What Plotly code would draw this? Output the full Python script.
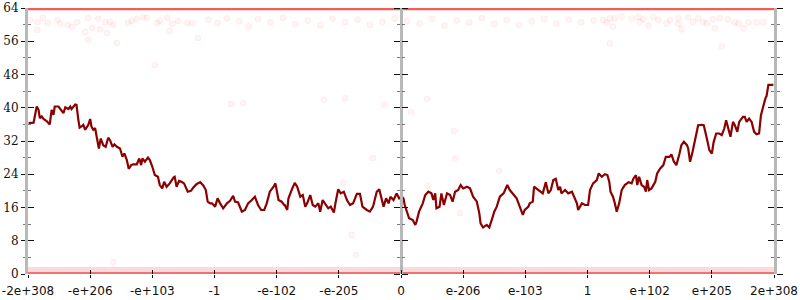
import plotly.graph_objects as go

# ---------------- data ----------------
tick_vals = [-6, -5, -4, -3, -2, -1, 0, 1, 2, 3, 4, 5, 6]
tick_text = ["-2e+308", "-e+206", "-e+103", "-1", "-e-102", "-e-205", "0",
             "e-206", "e-103", "1", "e+102", "e+205", "2e+308"]
y_major = [0, 8, 16, 24, 32, 40, 48, 56, 64]
y_minor = [4, 12, 20, 28, 36, 44, 52, 60]

left_x = [-5.99, -5.91, -5.86, -5.83, -5.81, -5.78, -5.75, -5.70, -5.65, -5.62,
          -5.59, -5.57, -5.51, -5.49, -5.43, -5.40, -5.35, -5.32, -5.30, -5.24,
          -5.22, -5.19, -5.17, -5.14, -5.11, -5.08, -5.06, -5.03, -5.00, -4.98,
          -4.95, -4.92, -4.89, -4.86, -4.83, -4.79, -4.75, -4.71, -4.68, -4.64,
          -4.61, -4.57, -4.52, -4.48, -4.45, -4.41, -4.38, -4.34, -4.31, -4.25,
          -4.21, -4.18, -4.16, -4.12, -4.07, -4.04, -4.00, -3.96, -3.91, -3.88,
          -3.84, -3.81, -3.77, -3.72, -3.66, -3.64, -3.61, -3.57, -3.53, -3.49,
          -3.43, -3.38, -3.34, -3.29, -3.23, -3.18, -3.14, -3.11, -3.07, -3.04,
          -2.99, -2.95, -2.91, -2.86, -2.80, -2.75, -2.70, -2.67, -2.62, -2.56,
          -2.51, -2.46, -2.40, -2.35, -2.32, -2.30, -2.25, -2.20, -2.16, -2.11,
          -2.05, -2.02, -1.97, -1.92, -1.88]
left_y = [36.3, 36.4, 40.3, 39.5, 37.5, 37.9, 37.3, 36.8, 36.0, 39.5,
          38.3, 40.3, 40.3, 39.9, 38.7, 40.1, 39.7, 40.3, 39.7, 40.8,
          40.7, 37.1, 35.2, 35.5, 35.9, 34.7, 35.1, 35.9, 37.3, 35.5,
          34.7, 35.1, 32.6, 30.2, 32.6, 31.0, 30.6, 32.8, 32.2, 30.6,
          31.2, 30.6, 30.2, 28.2, 29.0, 27.4, 25.3, 26.2, 26.4, 26.4,
          27.8, 26.2, 27.8, 27.0, 28.0, 27.4, 25.8, 23.8, 23.4, 21.4,
          20.6, 22.2, 21.0, 21.8, 23.2, 23.4, 21.0, 22.4, 22.2, 21.8,
          19.8, 20.0, 20.8, 21.6, 22.1, 21.3, 20.2, 17.4, 17.0, 17.0,
          16.2, 18.2, 17.0, 15.8, 17.0, 17.6, 18.8, 17.4, 17.2, 15.0,
          15.4, 17.0, 17.8, 18.6, 17.4, 16.6, 15.4, 15.4, 17.0, 19.8,
          21.0, 21.8, 17.8, 17.4, 16.6]

mid_x = [-1.87, -1.83, -1.81, -1.76, -1.71, -1.67, -1.62, -1.58, -1.54, -1.51,
         -1.46, -1.42, -1.38, -1.33, -1.30, -1.26, -1.21, -1.17, -1.13, -1.08,
         -1.05, -1.01, -0.97, -0.92, -0.87, -0.82, -0.77, -0.71, -0.66, -0.62,
         -0.55, -0.50, -0.45, -0.39, -0.35, -0.31, -0.28, -0.24, -0.20, -0.17,
         -0.12, -0.07, -0.03, 0.01, 0.04, 0.06, 0.09, 0.13, 0.19, 0.23,
         0.25, 0.29, 0.35, 0.39, 0.44, 0.49, 0.52, 0.55, 0.57, 0.62,
         0.65, 0.69, 0.74, 0.79, 0.83, 0.87, 0.92, 0.96, 1.00, 1.06,
         1.11, 1.16, 1.22, 1.26, 1.28, 1.32, 1.38, 1.42, 1.46, 1.50,
         1.54, 1.59, 1.65, 1.71, 1.75, 1.81, 1.86, 1.91, 1.96, 1.99,
         2.05]
mid_y = [16.6, 15.4, 18.2, 20.2, 21.9, 21.0, 18.6, 19.0, 16.2, 17.0,
         19.0, 16.6, 16.2, 17.0, 15.0, 17.8, 16.6, 15.8, 16.2, 14.8,
         17.4, 20.4, 19.4, 19.8, 17.8, 16.6, 17.0, 19.3, 19.3, 16.2,
         15.4, 15.0, 16.2, 19.8, 20.4, 18.2, 16.2, 18.2, 17.0, 18.6,
         17.8, 19.4, 18.2, 18.6, 18.2, 16.6, 15.0, 13.4, 13.0, 11.8,
         12.6, 15.0, 17.0, 19.0, 19.8, 19.4, 17.8, 19.4, 15.8, 16.2,
         19.4, 16.6, 19.4, 19.0, 17.4, 19.8, 20.2, 21.4, 20.6, 21.0,
         20.6, 18.6, 17.4, 14.6, 12.2, 11.2, 11.8, 11.2, 13.0, 15.0,
         16.2, 18.6, 19.4, 21.4, 20.2, 19.0, 18.2, 16.2, 14.2, 15.4,
         16.2]

right_x = [2.07, 2.12, 2.14, 2.21, 2.28, 2.33, 2.37, 2.41, 2.45, 2.49,
           2.53, 2.56, 2.58, 2.64, 2.69, 2.75, 2.78, 2.83, 2.85, 2.91,
           2.96, 3.01, 3.04, 3.09, 3.15, 3.18, 3.23, 3.28, 3.32, 3.35,
           3.37, 3.41, 3.44, 3.47, 3.51, 3.55, 3.60, 3.66, 3.71, 3.74,
           3.78, 3.80, 3.83, 3.87, 3.91, 3.94, 3.96, 3.99, 4.03, 4.09,
           4.12, 4.17, 4.22, 4.26, 4.32, 4.35, 4.39, 4.43, 4.48, 4.51,
           4.55, 4.60, 4.62, 4.65, 4.69, 4.73, 4.78, 4.84, 4.87, 4.92,
           4.96, 5.00, 5.03, 5.07, 5.12, 5.16, 5.20, 5.23, 5.26, 5.30,
           5.34, 5.37, 5.41, 5.44, 5.50, 5.53, 5.56, 5.60, 5.64, 5.68,
           5.72, 5.76, 5.79, 5.82, 5.86, 5.88, 5.91, 5.99]
right_y = [17.0, 17.4, 21.0, 20.2, 19.4, 22.1, 19.4, 20.2, 22.6, 22.9,
           20.2, 21.0, 19.4, 20.2, 19.4, 19.8, 18.8, 17.0, 15.4, 17.0,
           16.6, 16.6, 20.2, 21.8, 22.6, 24.2, 23.4, 24.0, 23.8, 22.2,
           19.8, 18.6, 17.0, 15.0, 17.0, 20.2, 21.4, 22.1, 21.8, 23.0,
           23.8, 21.4, 23.4, 21.4, 21.0, 19.8, 22.6, 20.2, 20.6, 22.2,
           24.2, 25.4, 26.2, 28.2, 28.2, 28.8, 27.0, 26.2, 29.0, 31.0,
           31.8, 31.0, 30.2, 27.0, 29.4, 32.2, 35.8, 35.9, 35.8, 32.6,
           29.8, 29.0, 31.8, 33.8, 33.8, 33.4, 35.0, 37.0, 35.0, 33.0,
           36.6, 35.8, 34.2, 36.6, 37.8, 37.8, 36.6, 37.4, 36.6, 34.2,
           33.6, 33.8, 38.2, 40.2, 42.2, 42.8, 45.5, 45.5]

# scattered sample points (faint circles)
pts_x = [-5.97, -5.85, -5.85, -5.76, -5.68, -5.53, -5.48, -5.36, -5.29, -5.21,
         -5.08, -5.03, -5.03, -4.97, -4.87, -4.84, -4.76, -4.73, -4.68, -4.63,
         -4.57, -4.39, -4.33, -4.25, -4.15, -4.09, -3.96, -3.92, -3.88, -3.76,
         -3.72, -3.68, -3.59, -3.44, -3.36, -3.27,
         -3.1, -2.95, -2.8, -2.6, -2.45, -2.3, -2.1, -1.9, -1.7, -1.5,
         -1.3, -1.1, -0.9, -0.7, -0.5, -0.3, -0.1, 0.1, 0.3, 0.5, 0.7,
         0.9, 1.1, 1.3, 1.5, 1.7, 1.9, 2.1, 2.3, 2.5, 2.7, 2.9, 3.1,
         3.25, 3.31, 3.36, 3.44, 3.55, 3.71, 3.82, 3.84, 3.90, 4.06,
         4.14, 4.27, 4.33, 4.46, 4.51, 4.62, 4.70, 4.78, 4.86, 4.92,
         5.02, 5.05, 5.13, 5.26, 5.37, 5.43, 5.51, 5.59, 5.72, 5.83,
         3.36, 5.16, 3.41, 3.98, 4.46,
         -2.73, -2.54, -1.24, -0.90, -0.27, -0.45, -0.93, -0.79, -0.72,
         0.42, 0.16, 0.85, 0.87, 1.58, 0.43, 0.95, -4.63]
pts_y = [61.1, 60.6, 58.7, 61.6, 60.4, 61.1, 60.2, 59.9, 59.4, 60.6,
         58.2, 61.6, 56.3, 59.2, 61.4, 58.9, 60.6, 58.0, 60.6, 59.9,
         55.6, 60.4, 60.9, 61.4, 61.8, 61.6, 50.3, 60.4, 60.9, 61.6,
         58.5, 60.2, 60.9, 60.4, 60.4, 56.8,
         61.2, 60.4, 61.5, 60.8, 59.6, 61.3, 60.5, 61.6, 60.1, 61.0,
         59.8, 61.4, 60.6, 61.2, 59.9, 60.7, 61.5, 60.9, 60.3, 61.4, 59.7,
         61.0, 60.5, 61.6, 60.2, 61.1, 59.9, 60.8, 61.4, 60.3, 61.2, 60.6, 61.0,
         61.1, 60.5, 61.5, 61.5, 61.9, 61.5, 61.8, 60.7, 61.3, 61.9,
         61.1, 60.3, 61.1, 61.5, 58.9, 61.8, 60.7, 61.5, 60.7, 60.3,
         61.3, 59.1, 61.5, 61.3, 60.5, 60.3, 59.1, 60.5, 60.5, 60.5,
         55.5, 54.7, 59.5, 59.7, 60.2,
         40.9, 41.1, 41.9, 42.3, 40.7, 27.9, 21.9, 9.4, 4.6,
         42.1, 39.0, 34.4, 27.7, 24.8, 21.2, 14.7, 2.9]

# dense bands of samples at the extremes
band_top = 63.8
band_low_light = 0.85
band_low_core = 0.12
band_span = [-6, 6]

# ---------------- figure ----------------
fig = go.Figure()

fig.add_trace(go.Scatter(x=band_span, y=[band_low_light] * 2, mode="lines",
                         line=dict(color="rgba(240,70,70,0.20)", width=7),
                         hoverinfo="skip", showlegend=False))
fig.add_trace(go.Scatter(x=band_span, y=[band_low_core] * 2, mode="lines",
                         line=dict(color="rgba(225,30,30,0.55)", width=3),
                         hoverinfo="skip", showlegend=False))
fig.add_trace(go.Scatter(x=band_span, y=[band_top] * 2, mode="lines",
                         line=dict(color="rgba(235,40,40,0.75)", width=3),
                         hoverinfo="skip", showlegend=False))
fig.add_trace(go.Scatter(x=pts_x, y=pts_y, mode="markers",
                         marker=dict(size=6, color="rgba(255,60,60,0.06)",
                                     line=dict(color="rgba(255,0,0,0.05)", width=1)),
                         cliponaxis=False, hoverinfo="skip", showlegend=False))

fig.add_trace(go.Scatter(x=left_x + mid_x + right_x, y=left_y + mid_y + right_y,
                         mode="lines", line=dict(color="#8b0000", width=2.2),
                         hoverinfo="skip", showlegend=False))

# dummy traces so that every decorative axis is drawn
for ya in ["y2", "y3", "y4", "y5", "y6"]:
    fig.add_trace(go.Scatter(x=[0], y=[32], yaxis=ya, mode="markers",
                             marker=dict(opacity=0), hoverinfo="skip", showlegend=False))
fig.add_trace(go.Scatter(x=[0], y=[32], xaxis="x2", mode="markers",
                         marker=dict(opacity=0), hoverinfo="skip", showlegend=False))

AXIS_GRAY = "#b8b8b8"


def yax(**kw):
    base = dict(range=[0, 64], tickmode="array", tickvals=y_major,
                showgrid=False, zeroline=False, tickcolor="#111", tickwidth=1,
                showticklabels=False, automargin=False,
                minor=dict(tickmode="array", tickvals=y_minor, tickcolor="#777",
                           tickwidth=1, ticklen=3))
    base.update(kw)
    return base


fig.update_layout(
    width=800, height=300,
    margin=dict(l=28, r=26, t=8, b=26, pad=0, autoexpand=False),
    paper_bgcolor="white", plot_bgcolor="white",
    showlegend=False,
    xaxis=dict(domain=[0, 1], range=[-6, 6], tickmode="array", tickvals=tick_vals,
               ticktext=tick_text, ticks="outside", ticklen=3, tickcolor="#111",
               tickwidth=1, showline=False, showgrid=False, zeroline=False,
               automargin=False, ticklabelstandoff=3,
               tickfont=dict(family="DejaVu Sans", size=12, color="#111"), anchor="y"),
    xaxis2=dict(overlaying="x", range=[-6, 6], tickmode="array", tickvals=tick_vals,
                ticks="inside", ticklen=4, tickcolor="#111", tickwidth=1,
                showticklabels=False, showgrid=False, zeroline=False, showline=False,
                automargin=False, anchor="y", side="bottom"),
    yaxis=yax(anchor="x", side="left", ticks="outside", ticklen=4,
              showticklabels=True, showline=True, linecolor=AXIS_GRAY, linewidth=3,
              tickfont=dict(family="DejaVu Serif", size=12, color="#111"),
              minor=dict(tickmode="array", tickvals=y_minor, ticks="outside",
                         ticklen=2, tickcolor="#777", tickwidth=1)),
    yaxis2=yax(overlaying="y", anchor="x", side="left", ticks="inside", ticklen=6,
               minor=dict(tickmode="array", tickvals=y_minor, ticks="inside",
                          ticklen=3, tickcolor="#777", tickwidth=1)),
    yaxis3=yax(overlaying="y", anchor="free", position=0.5, side="left",
               ticks="outside", ticklen=6, showline=True, linecolor=AXIS_GRAY,
               linewidth=3,
               minor=dict(tickmode="array", tickvals=y_minor, ticks="outside",
                          ticklen=3, tickcolor="#777", tickwidth=1)),
    yaxis4=yax(overlaying="y", anchor="free", position=0.5, side="right",
               ticks="outside", ticklen=6,
               minor=dict(tickmode="array", tickvals=y_minor, ticks="outside",
                          ticklen=3, tickcolor="#777", tickwidth=1)),
    yaxis5=yax(overlaying="y", anchor="x", side="right", ticks="outside", ticklen=6,
               showline=True, linecolor=AXIS_GRAY, linewidth=3,
               minor=dict(tickmode="array", tickvals=y_minor, ticks="outside",
                          ticklen=3, tickcolor="#777", tickwidth=1)),
    yaxis6=yax(overlaying="y", anchor="x", side="right", ticks="inside", ticklen=6,
               minor=dict(tickmode="array", tickvals=y_minor, ticks="inside",
                          ticklen=3, tickcolor="#777", tickwidth=1)),
)

fig.write_html("out.html")
